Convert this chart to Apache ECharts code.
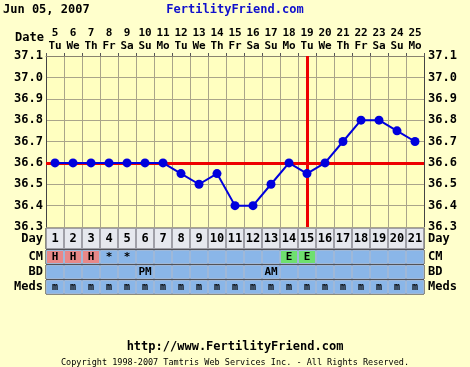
<!DOCTYPE html>
<html><head><meta charset="utf-8">
<script src="https://cdn.jsdelivr.net/npm/echarts@6/dist/echarts.min.js"></script>
<style>html,body{margin:0;padding:0;background:#ffffcc}#c{width:470px;height:367px}</style>
</head><body><div id="c"></div>
<script>
const dates = ['5','6','7','8','9','10','11','12','13','14','15','16','17','18','19','20','21','22','23','24','25'];
const weekdays = ['Tu','We','Th','Fr','Sa','Su','Mo','Tu','We','Th','Fr','Sa','Su','Mo','Tu','We','Th','Fr','Sa','Su','Mo'];
const cycleDays = ['1','2','3','4','5','6','7','8','9','10','11','12','13','14','15','16','17','18','19','20','21'];
const temps = [36.6,36.6,36.6,36.6,36.6,36.6,36.6,36.55,36.5,36.55,36.4,36.4,36.5,36.6,36.55,36.6,36.7,36.8,36.8,36.75,36.7];
const cm = ['H','H','H','*','*','','','','','','','','','E','E','','','','','',''];
const bd = ['','','','','','PM','','','','','','','AM','','','','','','','',''];
const meds = ['m','m','m','m','m','m','m','m','m','m','m','m','m','m','m','m','m','m','m','m','m'];
const coverline = 36.6;
const ovulationDate = '19';
const yTicks = {min: 36.3, max: 37.1, step: 0.1};

const FONT = 'DejaVu Sans Mono';
const txt = {fontFamily: FONT, fontWeight: 'bold', fontSize: 12, color: '#000'};
const BLUE = '#8ab6e8', PINK = '#e88888', GREEN = '#6ee06e', DAYBG = '#e6e8ee';
const L = 46, W = 378;

const rows = [
  {name: 'Day', top: 228, height: 21},
  {name: 'CM', top: 250, height: 14},
  {name: 'BD', top: 265, height: 14},
  {name: 'Meds', top: 280, height: 14}
];

function cellColor(row, v) {
  if (row === 0) return DAYBG;
  if (row === 1 && v === 'H') return PINK;
  if (row === 1 && v === 'E') return GREEN;
  return BLUE;
}
const rowTexts = [cycleDays, cm, bd, meds];

const grids = [{left: L, top: 56, width: W, height: 171, show: true, backgroundColor: '#ffffc0', borderWidth: 0}];
const xAxes = [{
  gridIndex: 0, type: 'category', position: 'top', data: dates, boundaryGap: true,
  axisLine: {show: true, lineStyle: {color: '#8a8470', width: 1}},
  axisTick: {show: true, length: 3, lineStyle: {color: '#555'}},
  axisLabel: {interval: 0, margin: 3, ...txt, fontSize: 11, lineHeight: 13,
    formatter: (v, i) => v + '\n' + weekdays[i]},
  splitLine: {show: true, interval: 0, lineStyle: {color: '#aaa58a', width: 1}}
}];
const yAxes = [
  {gridIndex: 0, type: 'value', position: 'left', min: yTicks.min, max: yTicks.max, interval: yTicks.step,
   axisLine: {show: true, lineStyle: {color: '#444'}}, axisTick: {show: false},
   axisLabel: {...txt, margin: 3, formatter: v => v.toFixed(1)},
   splitLine: {show: true, lineStyle: {color: '#aaa58a', width: 1}}},
  {gridIndex: 0, type: 'value', position: 'right', min: yTicks.min, max: yTicks.max, interval: yTicks.step,
   axisLine: {show: true, lineStyle: {color: '#444'}}, axisTick: {show: false},
   axisLabel: {...txt, margin: 4, formatter: v => v.toFixed(1)}, splitLine: {show: false}}
];
const series = [{
  type: 'line', xAxisIndex: 0, yAxisIndex: 0, data: temps,
  symbol: 'circle', symbolSize: 9, z: 5,
  lineStyle: {color: '#0000dd', width: 2}, itemStyle: {color: '#0000dd'},
  markLine: {silent: true, symbol: 'none', label: {show: false}, z: 3,
    lineStyle: {color: '#ee0000', width: 3, type: 'solid'},
    data: [{yAxis: coverline}, {xAxis: ovulationDate}]}
}];

rows.forEach((r, k) => {
  const gi = k + 1;
  grids.push({left: L, top: r.top, width: W, height: r.height, show: true,
    backgroundColor: k === 0 ? DAYBG : BLUE, borderColor: '#1a1a33', borderWidth: 1});
  xAxes.push({gridIndex: gi, type: 'category', data: cycleDays, boundaryGap: true,
    axisLine: {show: false}, axisTick: {show: false}, axisLabel: {show: false},
    splitLine: {show: false}});
  const fmt = v => (Math.abs(v - 0.5) < 1e-6 ? r.name : '');
  yAxes.push({gridIndex: gi, type: 'value', position: 'left', min: 0, max: 1, interval: 0.5,
    axisLine: {show: false}, axisTick: {show: false}, splitLine: {show: false},
    axisLabel: {...txt, margin: 3, formatter: fmt, showMinLabel: true, showMaxLabel: true}});
  yAxes.push({gridIndex: gi, type: 'value', position: 'right', min: 0, max: 1, interval: 0.5,
    axisLine: {show: false}, axisTick: {show: false}, splitLine: {show: false},
    axisLabel: {...txt, margin: 4, formatter: fmt}});
  const texts = rowTexts[k];
  series.push({
    type: 'bar', xAxisIndex: gi, yAxisIndex: yAxes.length - 2, barCategoryGap: '0%',
    data: texts.map(t => ({value: 1, itemStyle: {color: cellColor(k, t)}})),
    itemStyle: {borderColor: k === 0 ? '#a0a0a8' : '#9fb8d8', borderWidth: 1},
    label: {show: true, position: 'inside', ...txt, fontSize: k === 3 ? 10 : (k === 0 ? 12 : 11),
      formatter: p => texts[p.dataIndex]},
    silent: true
  });
});

const chart = echarts.init(document.getElementById('c'), null, {renderer: 'canvas'});
chart.setOption({
  backgroundColor: '#ffffcc',
  animation: false,
  title: [
    {text: 'Jun 05, 2007', left: 3, top: 4, padding: 0, textStyle: {...txt, fontSize: 12}},
    {text: 'FertilityFriend.com', left: 'center', top: 4, padding: 0, textStyle: {...txt, color: '#1010cc'}},
    {text: 'Date', left: 15, top: 32, padding: 0, textStyle: {...txt}},
    {text: 'http://www.FertilityFriend.com', left: 'center', top: 341, padding: 0, textStyle: {...txt, fontSize: 12}},
    {text: 'Copyright 1998-2007 Tamtris Web Services Inc. - All Rights Reserved.', left: 'center', top: 358, padding: 0,
     textStyle: {fontFamily: FONT, fontWeight: 'normal', fontSize: 8.5, color: '#000'}}
  ],
  grid: grids, xAxis: xAxes, yAxis: yAxes, series: series
});
</script></body></html>
